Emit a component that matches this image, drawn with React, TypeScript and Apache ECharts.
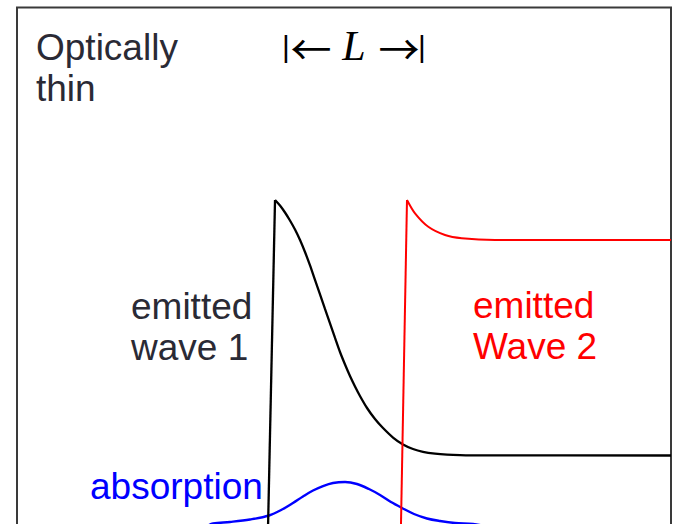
import React, { useEffect, useRef } from "react";
import * as echarts from "echarts";

// position (0..100 across the frame) vs intensity (0..100 up the frame)
const wave1Rise: number[][] = [[38.3, 0], [39.36, 62.79]];
const wave1Decay: number[][] = [
  [39.36, 62.79], [40.12, 61.72], [40.89, 60.37], [41.65, 58.82], [42.42, 57.07],
  [43.19, 55.04], [43.95, 52.71], [44.72, 50.1], [45.48, 47.29], [46.25, 44.48],
  [47.01, 41.67], [47.78, 38.86], [48.55, 36.05], [49.31, 33.33], [50.08, 30.91],
  [50.84, 28.68], [51.61, 26.65], [52.37, 24.81], [53.45, 22.48], [54.67, 20.35],
  [55.9, 18.6], [57.43, 16.76], [58.96, 15.41], [60.49, 14.53], [62.02, 13.99],
  [63.86, 13.64], [65.7, 13.45], [67.69, 13.35], [70.75, 13.29], [100, 13.28],
];
const wave2Rise: number[][] = [[58.65, 0], [59.57, 62.79]];
const wave2Decay: number[][] = [
  [59.57, 62.79], [60.8, 60.2], [62.83, 57.6], [65.39, 56.0], [67.95, 55.37],
  [73.05, 55.04], [100, 55.04],
];
const absorption: number[][] = [
  [29.0, -0.4], [29.86, 0.1], [32.47, 0.39], [35.53, 0.87], [38.44, 1.65],
  [40.58, 2.91], [42.11, 4.07], [43.64, 5.33], [45.18, 6.49], [46.71, 7.36],
  [48.24, 7.95], [50.08, 8.14], [51.91, 7.75], [53.75, 6.78], [55.44, 5.62],
  [57.12, 4.26], [58.81, 3.1], [60.64, 1.94], [62.63, 1.07], [64.62, 0.58],
  [66.92, 0.19], [69.68, 0.0], [71.5, -0.4],
];

const labelTitle = "Optically\nthin";
const labelWave1 = "emitted\nwave 1";
const labelWave2 = "emitted\nWave 2";
const labelAbs = "absorption";
const lengthParts = ["|", "\u2190", "L", "\u2192", "|"];

const SANS = '"Liberation Sans", Arial, Helvetica, sans-serif';
const SERIF = '"Liberation Serif", "Times New Roman", serif';
const ARROW = '"Noto Sans CJK SC", "DejaVu Sans", sans-serif';

export default function App() {
  const ref = useRef<HTMLDivElement>(null);
  useEffect(() => {
    if (!ref.current) return;
    const chart = echarts.init(ref.current, undefined, { renderer: "svg" });
    const line = (data: number[][], color: string, width: number, smooth: any) => ({
      type: "line",
      data,
      smooth,
      symbol: "none",
      lineStyle: { color, width },
      silent: true,
    });
    const mid = (x: number, y: number, text: string, font: string) => ({
      type: "text",
      x,
      y,
      style: { text, font, fill: "#000000", align: "center", verticalAlign: "middle" },
    });
    chart.setOption({
      animation: false,
      backgroundColor: "#ffffff",
      grid: { left: 18, right: 2, top: 8, bottom: 0 },
      xAxis: { type: "value", min: 0, max: 100, show: false },
      yAxis: { type: "value", min: 0, max: 100, show: false },
      series: [
        line(absorption, "#0000ff", 2.4, 0.35),
        line(wave1Rise, "#000000", 2.3, false),
        line(wave1Decay, "#000000", 2.3, 0.3),
        line(wave2Rise, "#ff0000", 2, false),
        line(wave2Decay, "#ff0000", 2, 0.3),
      ],
      graphic: [
        {
          type: "polyline",
          silent: true,
          shape: { points: [[17, 540], [17, 7.5], [671, 7.5], [671, 540]] },
          style: { stroke: "#3a3a3a", lineWidth: 2, fill: "none" },
        },
        {
          type: "text",
          x: 36,
          y: 27,
          style: { text: labelTitle, font: `37px ${SANS}`, fill: "#2a2a35", lineHeight: 41, verticalAlign: "top" },
        },
        mid(286, 46, lengthParts[0], `30px ${SANS}`),
        mid(311, 47, lengthParts[1], `41px ${ARROW}`),
        mid(354, 46, lengthParts[2], `italic 42px ${SERIF}`),
        mid(399, 47, lengthParts[3], `41px ${ARROW}`),
        mid(422, 46, lengthParts[4], `30px ${SANS}`),
        {
          type: "text",
          x: 131,
          y: 286,
          style: { text: labelWave1, font: `37px ${SANS}`, fill: "#2a2a35", lineHeight: 41, verticalAlign: "top" },
        },
        {
          type: "text",
          x: 473,
          y: 285,
          style: { text: labelWave2, font: `37px ${SANS}`, fill: "#ff0000", lineHeight: 41, verticalAlign: "top" },
        },
        {
          type: "text",
          x: 90,
          y: 466,
          style: { text: labelAbs, font: `37px ${SANS}`, fill: "#0000ff", lineHeight: 41, verticalAlign: "top" },
        },
      ],
    });
    return () => chart.dispose();
  }, []);
  return <div ref={ref} style={{ position: "fixed", left: 0, top: 0, width: 673, height: 524 }} />;
}
